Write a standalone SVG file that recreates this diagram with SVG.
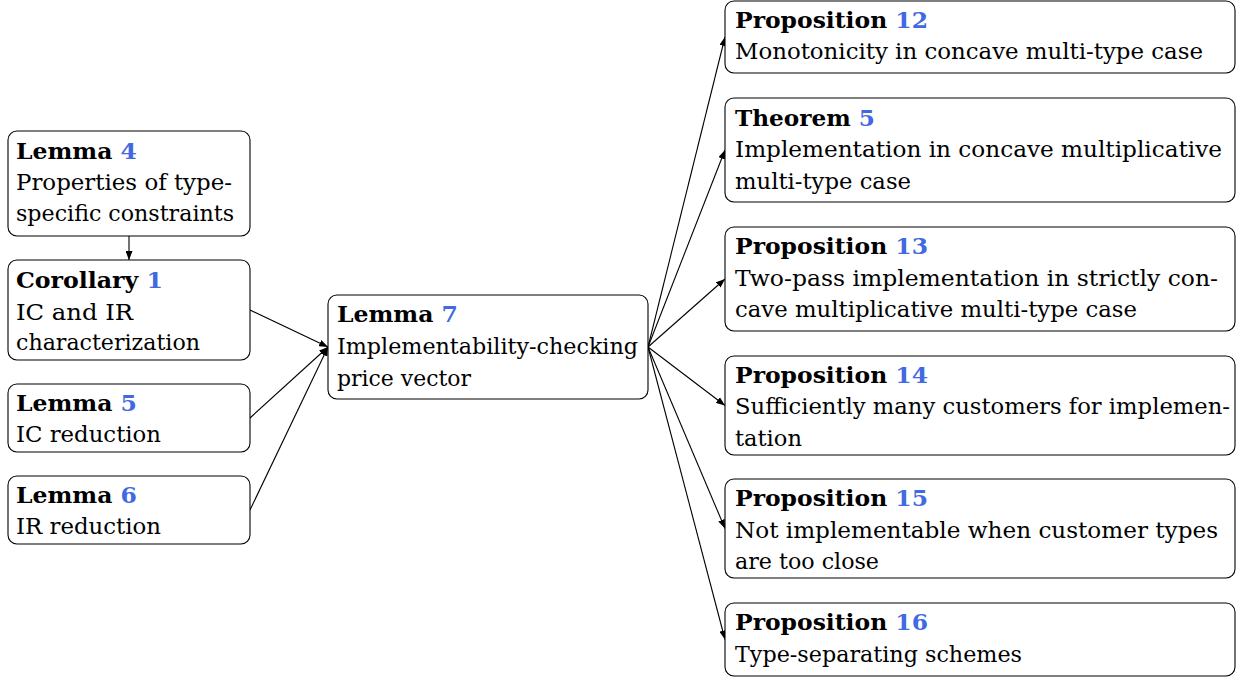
<svg xmlns="http://www.w3.org/2000/svg" width="1245" height="681" viewBox="0 0 1245 681">
<style>
  .box { fill: #ffffff; stroke: #000000; stroke-width: 1.1; }
  .t { font-family: "DejaVu Serif", "Liberation Serif", serif; font-size: 22px; fill: #000000; }
  .b { font-weight: bold; }
  .num { fill: #4169e1; font-weight: bold; }
  .edge { stroke: #000000; stroke-width: 1.1; fill: none; marker-end: url(#tip); }
</style>
<defs>
  <marker id="tip" markerUnits="userSpaceOnUse" markerWidth="9" markerHeight="7" refX="9" refY="3.5" orient="auto">
    <path d="M0,0 L9,3.5 L0,7 Z" fill="#000000"/>
  </marker>
</defs>
<rect width="1245" height="681" fill="#ffffff"/>

<g id="connectors">
  <line class="edge" x1="129" y1="236" x2="129" y2="260"/>
  <line class="edge" x1="250" y1="310" x2="328" y2="347"/>
  <line class="edge" x1="250" y1="418" x2="328" y2="347"/>
  <line class="edge" x1="250" y1="510" x2="328" y2="347"/>
  <line class="edge" x1="648" y1="347" x2="725" y2="37"/>
  <line class="edge" x1="648" y1="347" x2="725" y2="150"/>
  <line class="edge" x1="648" y1="347" x2="725" y2="279"/>
  <line class="edge" x1="648" y1="347" x2="725" y2="405.5"/>
  <line class="edge" x1="648" y1="347" x2="725" y2="528.5"/>
  <line class="edge" x1="648" y1="347" x2="725" y2="639.5"/>
</g>

<g id="lemma4">
  <rect class="box" x="8" y="131" width="242" height="105" rx="9"/>
  <text class="t" x="16" y="159" textLength="121" lengthAdjust="spacingAndGlyphs"><tspan class="b">Lemma </tspan><tspan class="num">4</tspan></text>
  <text class="t" x="16" y="190" textLength="216" lengthAdjust="spacingAndGlyphs">Properties of type-</text>
  <text class="t" x="16" y="221" textLength="218" lengthAdjust="spacingAndGlyphs">specific constraints</text>
</g>

<g id="corollary1">
  <rect class="box" x="8" y="260" width="242" height="100" rx="9"/>
  <text class="t" x="16" y="288" textLength="147" lengthAdjust="spacingAndGlyphs"><tspan class="b">Corollary </tspan><tspan class="num">1</tspan></text>
  <text class="t" x="16" y="319.5" textLength="117" lengthAdjust="spacingAndGlyphs">IC and IR</text>
  <text class="t" x="16" y="350" textLength="184" lengthAdjust="spacingAndGlyphs">characterization</text>
</g>

<g id="lemma5">
  <rect class="box" x="8" y="384" width="242" height="68" rx="9"/>
  <text class="t" x="16" y="411" textLength="121" lengthAdjust="spacingAndGlyphs"><tspan class="b">Lemma </tspan><tspan class="num">5</tspan></text>
  <text class="t" x="16" y="442" textLength="145" lengthAdjust="spacingAndGlyphs">IC reduction</text>
</g>

<g id="lemma6">
  <rect class="box" x="8" y="476" width="242" height="68" rx="9"/>
  <text class="t" x="16" y="503" textLength="121" lengthAdjust="spacingAndGlyphs"><tspan class="b">Lemma </tspan><tspan class="num">6</tspan></text>
  <text class="t" x="16" y="534" textLength="145" lengthAdjust="spacingAndGlyphs">IR reduction</text>
</g>

<g id="lemma7">
  <rect class="box" x="328" y="295" width="320" height="104" rx="9"/>
  <text class="t" x="337" y="322" textLength="121" lengthAdjust="spacingAndGlyphs"><tspan class="b">Lemma </tspan><tspan class="num">7</tspan></text>
  <text class="t" x="337" y="354" textLength="301" lengthAdjust="spacingAndGlyphs">Implementability-checking</text>
  <text class="t" x="337" y="386" textLength="134" lengthAdjust="spacingAndGlyphs">price vector</text>
</g>

<g id="prop12">
  <rect class="box" x="725" y="1" width="510" height="72" rx="9"/>
  <text class="t" x="735" y="28" textLength="193" lengthAdjust="spacingAndGlyphs"><tspan class="b">Proposition </tspan><tspan class="num">12</tspan></text>
  <text class="t" x="735" y="59" textLength="468" lengthAdjust="spacingAndGlyphs">Monotonicity in concave multi-type case</text>
</g>

<g id="theorem5">
  <rect class="box" x="725" y="98" width="510" height="104" rx="9"/>
  <text class="t" x="735" y="126" textLength="140" lengthAdjust="spacingAndGlyphs"><tspan class="b">Theorem </tspan><tspan class="num">5</tspan></text>
  <text class="t" x="735" y="157" textLength="487" lengthAdjust="spacingAndGlyphs">Implementation in concave multiplicative</text>
  <text class="t" x="735" y="189" textLength="176" lengthAdjust="spacingAndGlyphs">multi-type case</text>
</g>

<g id="prop13">
  <rect class="box" x="725" y="227" width="510" height="104" rx="9"/>
  <text class="t" x="735" y="254" textLength="193" lengthAdjust="spacingAndGlyphs"><tspan class="b">Proposition </tspan><tspan class="num">13</tspan></text>
  <text class="t" x="735" y="286" textLength="483" lengthAdjust="spacingAndGlyphs">Two-pass implementation in strictly con-</text>
  <text class="t" x="735" y="317" textLength="402" lengthAdjust="spacingAndGlyphs">cave multiplicative multi-type case</text>
</g>

<g id="prop14">
  <rect class="box" x="725" y="356" width="510" height="99" rx="9"/>
  <text class="t" x="735" y="383" textLength="193" lengthAdjust="spacingAndGlyphs"><tspan class="b">Proposition </tspan><tspan class="num">14</tspan></text>
  <text class="t" x="735" y="414" textLength="495" lengthAdjust="spacingAndGlyphs">Sufficiently many customers for implemen-</text>
  <text class="t" x="735" y="446" textLength="67" lengthAdjust="spacingAndGlyphs">tation</text>
</g>

<g id="prop15">
  <rect class="box" x="725" y="479" width="510" height="99" rx="9"/>
  <text class="t" x="735" y="506" textLength="193" lengthAdjust="spacingAndGlyphs"><tspan class="b">Proposition </tspan><tspan class="num">15</tspan></text>
  <text class="t" x="735" y="538" textLength="483" lengthAdjust="spacingAndGlyphs">Not implementable when customer types</text>
  <text class="t" x="735" y="569" textLength="144" lengthAdjust="spacingAndGlyphs">are too close</text>
</g>

<g id="prop16">
  <rect class="box" x="725" y="603" width="510" height="73" rx="9"/>
  <text class="t" x="735" y="630" textLength="193" lengthAdjust="spacingAndGlyphs"><tspan class="b">Proposition </tspan><tspan class="num">16</tspan></text>
  <text class="t" x="735" y="662" textLength="287" lengthAdjust="spacingAndGlyphs">Type-separating schemes</text>
</g>
</svg>
